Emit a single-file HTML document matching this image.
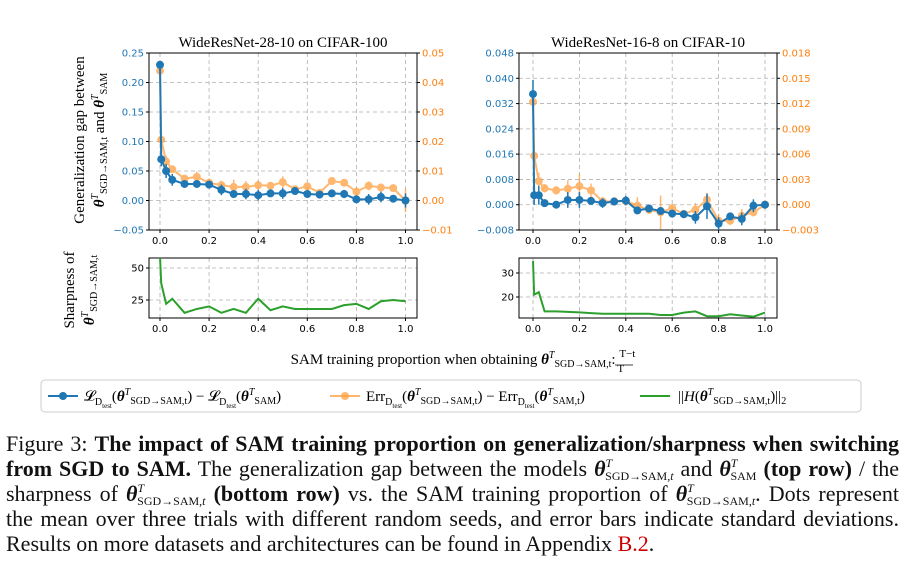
<!DOCTYPE html>
<html><head><meta charset="utf-8">
<style>
body{margin:0;background:#fff;width:903px;height:563px;overflow:hidden;position:relative;font-family:"Liberation Serif",serif}
svg{position:absolute;left:0;top:0}
.cap{position:absolute;left:6px;top:431px;width:893px;font-size:22px;line-height:25px;color:#111}
.cap .ln{height:25px;white-space:nowrap;text-align:justify;text-align-last:justify}
.cap .ln.last{text-align-last:left}
.cap b{font-weight:bold}
.cap sup,.cap sub{font-size:12px;line-height:0;position:relative;vertical-align:baseline}
.cap sup{top:-9px}
.cap sub{top:4px;margin-left:-7px}
.red{color:#c00}
</style></head><body>
<svg id="chart" width="903" height="425" xmlns="http://www.w3.org/2000/svg"></svg>
<div class="cap">
<div class="ln">Figure 3: <b>The impact of SAM training proportion on generalization/sharpness when switching</b></div>
<div class="ln"><b>from SGD to SAM.</b> The generalization gap between the models <b><i>θ</i></b><sup><i>T</i></sup><sub>SGD→SAM,<i>t</i></sub> and <b><i>θ</i></b><sup><i>T</i></sup><sub>SAM</sub> <b>(top row)</b> / the</div>
<div class="ln">sharpness of <b><i>θ</i></b><sup><i>T</i></sup><sub>SGD→SAM,<i>t</i></sub> <b>(bottom row)</b> vs. the SAM training proportion of <b><i>θ</i></b><sup><i>T</i></sup><sub>SGD→SAM,<i>t</i></sub>. Dots represent</div>
<div class="ln">the mean over three trials with different random seeds, and error bars indicate standard deviations.</div>
<div class="ln last">Results on more datasets and architectures can be found in Appendix <span class="red">B.2</span>.</div>
</div>
<script>
const xs=[0,0.005,0.025,0.05,0.1,0.15,0.2,0.25,0.3,0.35,0.4,0.45,0.5,0.55,0.6,0.65,0.7,0.75,0.8,0.85,0.9,0.95,1.0];
const blueL=[0.23,0.07,0.05,0.035,0.028,0.028,0.027,0.018,0.011,0.011,0.009,0.012,0.012,0.016,0.011,0.010,0.012,0.011,0.002,0.002,0.006,0.003,0.0];
const blueLErr=[0.004,0.012,0.012,0.01,0.004,0.005,0.006,0.009,0.006,0.009,0.009,0.006,0.009,0.004,0.003,0.004,0.003,0.007,0.004,0.009,0.009,0.004,0.012];
const orangeL=[0.044,0.0206,0.0132,0.0106,0.0074,0.008,0.006,0.0052,0.0046,0.0046,0.0052,0.005,0.0062,0.0038,0.0048,0.0026,0.0066,0.006,0.003,0.005,0.0044,0.0042,0.0];
const orangeLErr=[0.001,0.002,0.002,0.001,0.001,0.0018,0.0015,0.0015,0.0025,0.002,0.0015,0.001,0.002,0.001,0.001,0.001,0.001,0.001,0.001,0.0015,0.001,0.001,0.004];
const blueR=[0.035,0.003,0.003,0.0005,0,0.0015,0.0015,0.0012,0.0005,0.001,0.0013,-0.0018,-0.0012,-0.002,-0.0028,-0.003,-0.004,-0.0005,-0.006,-0.0037,-0.0045,-0.0003,0];
const blueRErr=[0.0045,0.003,0.003,0.001,0.0005,0.0025,0.0025,0.001,0.0015,0.001,0.0015,0.001,0.0005,0.001,0.001,0.0005,0.002,0.004,0.002,0.001,0.002,0.002,0.001];
const orangeR=[0.0122,0.0058,0.0028,0.00195,0.0017,0.0019,0.0022,0.0017,0.0004,0.0004,0.00045,-0.0001,-0.0006,-0.0009,-0.0004,-0.0011,-0.0006,0.0006,-0.0019,-0.0019,-0.0013,-0.0009,0];
const orangeRErr=[0.0005,0.001,0.001,0.0005,0.0005,0.001,0.0015,0.0008,0.0005,0.0005,0.0005,0.001,0.0005,0.002,0.0005,0.0005,0.0008,0.0008,0.0008,0.0005,0.0008,0.0005,0.0005];
const sharpL=[59,38,22,26,15,18,20,15,18,15,26,17,20,18,18,18,18,21,22,18,24,25,24];
const sharpR=[35,21,22,14,14,13.8,13.6,13.3,13,13,13,13,13,12.5,12.5,13.5,14,12,12,12.8,12.3,11.8,13.5];
const xTicks=[0,0.2,0.4,0.6,0.8,1.0];
const ticksTL=[-0.05,0,0.05,0.1,0.15,0.2,0.25];
const ticksTLr=[-0.01,0,0.01,0.02,0.03,0.04,0.05];
const ticksTR=[-0.008,0,0.008,0.016,0.024,0.032,0.040,0.048];
const ticksTRr=[-0.003,0,0.003,0.006,0.009,0.012,0.015,0.018];
const ticksBL=[25,50];
const ticksBR=[20,30];

const NS="http://www.w3.org/2000/svg";
const svg=document.getElementById('chart');
function el(tag,attrs,parent){const e=document.createElementNS(NS,tag);for(const k in attrs)e.setAttribute(k,attrs[k]);(parent||svg).appendChild(e);return e;}
function txt(s,x,y,attrs,parent){const t=el('text',Object.assign({x:x,y:y,'font-family':'DejaVu Sans, sans-serif','font-size':10},attrs),parent);t.textContent=s;return t;}
const BLUE="#1f77b4",ORANGE="#ff7f0e",GREEN="#2ca02c";
const defs=el('defs',{});
let clipN=0;

function panel(name,box,x0,x1,yl,yr){
  const g=el('g',{});
  
  
  const id='clip'+(clipN++);
  const cp=el('clipPath',{id:id},defs);
  el('rect',{x:box.l,y:box.t,width:box.r-box.l,height:box.b-box.t},cp);
  const sx=v=>x0+(x1-x0)*v;
  const syL=v=>box.b-(v-yl[0])/(yl[1]-yl[0])*(box.b-box.t);
  const syR=yr?(v=>box.b-(v-yr[0])/(yr[1]-yr[0])*(box.b-box.t)):null;
  return {g,sx,syL,syR,box,clip:'url(#'+id+')'};
}
function drawAxes(P,lt,rt,fmtL,fmtR,colL,title){
  const {g,sx,syL,syR,box}=P;
  xTicks.forEach(v=>{el('line',{x1:sx(v),x2:sx(v),y1:box.t,y2:box.b,stroke:'#b0b0b0','stroke-dasharray':'4,3','stroke-width':0.8},g);
    el('line',{x1:sx(v),x2:sx(v),y1:box.b,y2:box.b+3,stroke:'#000'},g);
    const t=txt(v.toFixed(1),sx(v),box.b+14,{'text-anchor':'middle'},g);});
  lt.forEach(v=>{const y=syL(v);el('line',{x1:box.l,x2:box.r,y1:y,y2:y,stroke:'#b0b0b0','stroke-dasharray':'4,3','stroke-width':0.8},g);
    el('line',{x1:box.l-3,x2:box.l,y1:y,y2:y,stroke:'#000'},g);
    const t=txt(fmtL(v),box.l-5,y+3.5,{'text-anchor':'end',fill:colL},g);});
  if(rt){rt.forEach(v=>{const y=syR(v);el('line',{x1:box.r,x2:box.r+3,y1:y,y2:y,stroke:'#000'},g);
    const t=txt(fmtR(v),box.r+5,y+3.5,{'text-anchor':'start',fill:ORANGE},g);});}
  el('rect',{x:box.l,y:box.t,width:box.r-box.l,height:box.b-box.t,fill:'none',stroke:'#000','stroke-width':1},g);
  if(title){const t=txt(title,(box.l+box.r)/2,box.t-6,{'text-anchor':'middle','font-family':'Liberation Serif, serif','font-size':15},g);}
}
function series(P,vals,errs,sy,col,alpha,name,dots){
  const {g,sx}=P;
  const sg=el('g',{opacity:alpha,'clip-path':P.clip},g);
  
  
  el('polyline',{points:xs.map((x,i)=>sx(x)+','+sy(vals[i])).join(' '),fill:'none',stroke:col,'stroke-width':2},sg);
  if(!dots)return;
  xs.forEach((x,i)=>{
    if(errs){const l=el('line',{x1:sx(x),x2:sx(x),y1:sy(vals[i]-errs[i]),y2:sy(vals[i]+errs[i]),stroke:col,'stroke-width':1.5},sg);
      }
    const c=el('circle',{cx:sx(x),cy:sy(vals[i]),r:4,fill:col},sg);
    
  });
}
const f2=v=>(v<0?'−':'')+Math.abs(v).toFixed(2);
const f3=v=>(v<0?'−':'')+Math.abs(v).toFixed(3);

const TL=panel('gap-panel-cifar100',{l:149,r:417,t:53,b:230},160,405.5,[-0.05,0.25],[-0.01,0.05]);
drawAxes(TL,ticksTL,ticksTLr,f2,f2,BLUE,'WideResNet-28-10 on CIFAR-100');
series(TL,orangeL,orangeLErr,TL.syR,'#ffa040',0.75,'err-gap-series',true);
series(TL,blueL,blueLErr,TL.syL,BLUE,1,'loss-gap-series',true);
const TR=panel('gap-panel-cifar10',{l:519,r:777,t:53,b:230},533,765,[-0.008,0.048],[-0.003,0.018]);
drawAxes(TR,ticksTR,ticksTRr,f3,f3,BLUE,'WideResNet-16-8 on CIFAR-10');
series(TR,orangeR,orangeRErr,TR.syR,'#ffa040',0.75,'err-gap-series',true);
series(TR,blueR,blueRErr,TR.syL,BLUE,1,'loss-gap-series',true);
const BL=panel('sharpness-panel-cifar100',{l:149,r:417,t:258,b:318},160,405.5,[10.94,57.8]);
drawAxes(BL,ticksBL,null,v=>String(v),null,'#000');
series(BL,sharpL,null,BL.syL,GREEN,1,'sharpness-series',false);
const BR=panel('sharpness-panel-cifar10',{l:519,r:777,t:258,b:318},533,765,[11.25,36.25]);
drawAxes(BR,ticksBR,null,v=>String(v),null,'#000');
series(BR,sharpR,null,BR.syL,GREEN,1,'sharpness-series',false);

let t=txt('Generalization gap between',0,0,{'font-family':'Liberation Serif, serif','font-size':15,transform:'translate(84,140) rotate(-90)','text-anchor':'middle'});

t=txt('',0,0,{'font-family':'Liberation Serif, serif','font-size':15,transform:'translate(104,140) rotate(-90)','text-anchor':'middle'});
t.innerHTML='<tspan font-weight="bold" font-style="italic">θ</tspan><tspan font-size="10" dy="-6" font-style="italic">T</tspan><tspan font-size="10" dy="9">SGD→SAM,t</tspan><tspan dy="-3"> and </tspan><tspan font-weight="bold" font-style="italic">θ</tspan><tspan font-size="10" dy="-6" font-style="italic">T</tspan><tspan font-size="10" dy="9">SAM</tspan>';

t=txt('Sharpness of',0,0,{'font-family':'Liberation Serif, serif','font-size':15,transform:'translate(74,290) rotate(-90)','text-anchor':'middle'});

t=txt('',0,0,{'font-family':'Liberation Serif, serif','font-size':15,transform:'translate(94,290) rotate(-90)','text-anchor':'middle'});
t.innerHTML='<tspan font-weight="bold" font-style="italic">θ</tspan><tspan font-size="10" dy="-6" font-style="italic">T</tspan><tspan font-size="10" dy="9">SGD→SAM,t</tspan>';

t=txt('',463,364,{'font-family':'Liberation Serif, serif','font-size':15,'text-anchor':'middle'});
t.innerHTML='SAM training proportion when obtaining <tspan font-weight="bold" font-style="italic">θ</tspan><tspan font-size="10" dy="-6" font-style="italic">T</tspan><tspan font-size="10" dy="9">SGD→SAM,t</tspan><tspan dy="-3">: </tspan><tspan font-size="11" dy="-7">T−t</tspan><tspan font-size="11" dx="-18" dy="15">T</tspan>';

el('line',{x1:615,x2:633,y1:365,y2:365,stroke:'#000','stroke-width':0.8});
const lg=el('g',{});


el('rect',{x:41,y:380,width:820,height:32,rx:4,fill:'#fff',stroke:'#ccc'},lg);
el('line',{x1:48,x2:78,y1:396,y2:396,stroke:BLUE,'stroke-width':2},lg);
el('circle',{cx:63,cy:396,r:4,fill:BLUE},lg);
el('line',{x1:330,x2:360,y1:396,y2:396,stroke:'#ffa040','stroke-width':2,opacity:0.75},lg);
el('circle',{cx:345,cy:396,r:4,fill:'#ffa040',opacity:0.75},lg);
el('line',{x1:640,x2:670,y1:396,y2:396,stroke:GREEN,'stroke-width':2},lg);
const sub='<tspan font-size="10" dy="4">D</tspan><tspan font-size="7" dy="3">test</tspan><tspan dy="-7">';
const th='<tspan font-weight="bold" font-style="italic">θ</tspan><tspan font-size="10" dy="-6" font-style="italic">T</tspan><tspan font-size="10" dy="9">';
t=txt('',84,401,{'font-family':'Liberation Serif, serif','font-size':15},lg);
t.innerHTML='𝓛'+sub+'(</tspan>'+th+'SGD→SAM,t</tspan><tspan dy="-3">) − 𝓛</tspan>'+sub+'(</tspan>'+th+'SAM</tspan><tspan dy="-3">)</tspan>';

t=txt('',366,401,{'font-family':'Liberation Serif, serif','font-size':15},lg);
t.innerHTML='Err'+sub+'(</tspan>'+th+'SGD→SAM,t</tspan><tspan dy="-3">) − Err</tspan>'+sub+'(</tspan>'+th+'SAM,t</tspan><tspan dy="-3">)</tspan>';

t=txt('',678,401,{'font-family':'Liberation Serif, serif','font-size':15},lg);
t.innerHTML='||<tspan font-style="italic">H</tspan>('+th+'SGD→SAM,t</tspan><tspan dy="-3">)||</tspan><tspan font-size="10" dy="3">2</tspan>';

</script>
</body></html>
